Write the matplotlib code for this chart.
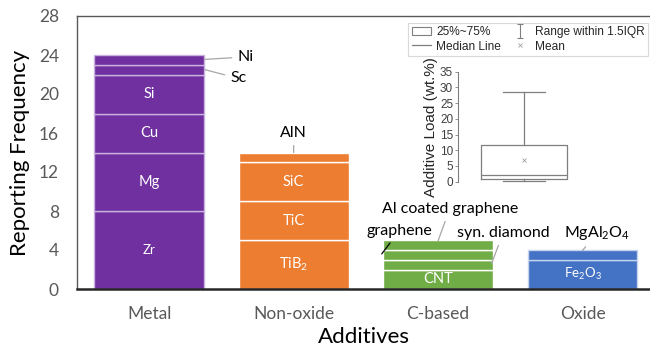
import numpy as np
import matplotlib.pyplot as plt
from matplotlib.patches import Patch
from matplotlib.lines import Line2D
from matplotlib.path import Path

plt.rcParams["font.family"] = ["Lato", "DejaVu Sans"]
plt.rcParams["mathtext.default"] = "regular"

# stacked bar data: reporting frequency of each additive
categories = ["Metal", "Non-oxide", "C-based", "Oxide"]
metal_names = ["Zr", "Mg", "Cu", "Si", "Sc", "Ni"]
metal_counts = [8, 6, 4, 4, 1, 1]
nonoxide_names = ["TiB$_2$", "TiC", "SiC", "AlN"]
nonoxide_counts = [5, 4, 4, 1]
cbased_names = ["CNT", "syn. diamond", "graphene", "Al coated graphene"]
cbased_counts = [2, 1, 1, 1]
oxide_names = ["Fe$_2$O$_3$", "MgAl$_2$O$_4$"]
oxide_counts = [3, 1]

# inset box plot summary (additive load, wt.%)
load_whislo = 0.2
load_q1 = 1.0
load_median = 2.0
load_mean = 7.0
load_q3 = 11.8
load_whishi = 28.5

colors = ["#7030A0", "#ED7D31", "#70AD47", "#4472C4"]
edge_colors = ["#c9b3de", "#ffffff", "#ffffff", "#c5d3ee"]
groups = [
    (metal_names, metal_counts),
    (nonoxide_names, nonoxide_counts),
    (cbased_names, cbased_counts),
    (oxide_names, oxide_counts),
]

# labels placed outside the bar: text position and arrow anchor (data coords)
outside = {
    "Ni": ((0.61, 23.8), (0.385, 23.55)),
    "Sc": ((0.56, 21.6), (0.385, 22.5)),
    "AlN": ((1.0, 16.0), (1.0, 14.0)),
    "Al coated graphene": ((2.08, 8.2), (2.0, 4.95)),
    "graphene": ((1.73, 5.95), (1.61, 3.6)),
    "syn. diamond": ((2.45, 5.75), (2.37, 2.6)),
    "MgAl$_2$O$_4$": ((3.1, 5.75), (3.0, 3.95)),
}
inside_size = {"Zr": 9.5, "Fe$_2$O$_3$": 9.5}

fig = plt.figure(figsize=(6.5, 3.5), dpi=100)
ax = fig.add_axes([77 / 650, 1 - 289 / 350, 1 - 77 / 650, (289 - 16) / 350])

width = 0.76
for i, (names, counts) in enumerate(groups):
    bottom = 0
    for name, c in zip(names, counts):
        ax.bar(i, c, width, bottom=bottom, color=colors[i],
               edgecolor=edge_colors[i], linewidth=1.0)
        if name in outside:
            (tx, ty), (ax_, ay) = outside[name]
            lc = "black" if name == "graphene" else "#a6a6a6"
            ax.annotate(name, xy=(ax_, ay), xytext=(tx, ty), fontsize=11.5,
                        ha="center" if name not in ("Ni", "Sc") else "left",
                        va="center",
                        arrowprops=dict(arrowstyle="-", color=lc, lw=0.9,
                                        shrinkA=2, shrinkB=0))
        else:
            ax.text(i, bottom + c / 2, name, color="white", ha="center",
                    va="center", fontsize=inside_size.get(name, 10.5))
        bottom += c

ax.set_xlim(-0.5, 3.467)
ax.set_ylim(0, 28)
ax.set_yticks(np.arange(0, 29, 4))
ax.set_xticks(range(len(categories)))
ax.set_xticklabels(categories)
ax.tick_params(axis="both", length=0, labelsize=12.5, colors="#595959")
ax.tick_params(axis="x", pad=12)
ax.tick_params(axis="y", pad=13)
ax.set_ylabel("Reporting Frequency", fontsize=16, labelpad=6)
ax.set_xlabel("Additives", fontsize=16, labelpad=4)
ax.spines["right"].set_visible(False)
for s in ["top", "left"]:
    ax.spines[s].set_color("#595959")
    ax.spines[s].set_linewidth(1.0)
ax.spines["bottom"].set_color("#262626")
ax.spines["bottom"].set_linewidth(1.8)

# inset box plot
ins = fig.add_axes([458 / 650, 1 - 181.7 / 350, 132 / 650, 110 / 350])
stats = [dict(med=load_median, q1=load_q1, q3=load_q3, whislo=load_whislo,
              whishi=load_whishi, mean=load_mean)]
gray = "#7f7f7f"
ins.bxp(stats, positions=[0.5], widths=0.65, capwidths=0.32, showmeans=True,
        showfliers=False,
        boxprops=dict(color=gray, lw=0.9),
        medianprops=dict(color=gray, lw=0.9),
        whiskerprops=dict(color=gray, lw=0.9),
        capprops=dict(color=gray, lw=0.9),
        meanprops=dict(marker="x", markeredgecolor="#a0a0a0", markersize=3,
                       markeredgewidth=0.6))
for artist in ins.get_children():
    if hasattr(artist, "set_clip_on"):
        artist.set_clip_on(False)
ins.set_xlim(0, 1)
ins.set_ylim(0, 35)
ins.set_yticks(np.arange(0, 36, 5))
ins.set_xticks([])
ins.patch.set_alpha(0)
for s in ["top", "right", "bottom"]:
    ins.spines[s].set_visible(False)
ins.spines["left"].set_color(gray)
ins.spines["left"].set_linewidth(0.8)
ins.tick_params(axis="y", length=2, width=0.6, color=gray, pad=1.5,
                labelsize=8.5, labelcolor="#404040")
for lab in ins.get_yticklabels():
    lab.set_fontfamily("Liberation Sans")
ins.set_ylabel("Additive Load (wt.%)", fontsize=11, family="Liberation Sans",
               labelpad=1, color="#262626")

# I-shaped whisker symbol for the legend
whisker_marker = Path([(-0.5, 1), (0.5, 1), (0, 1), (0, -1), (-0.5, -1),
                       (0.5, -1)],
                      [Path.MOVETO, Path.LINETO, Path.MOVETO, Path.LINETO,
                       Path.MOVETO, Path.LINETO])
handles = [
    Patch(facecolor="white", edgecolor=gray, lw=0.8),
    Line2D([], [], color=gray, lw=0.9),
    Line2D([], [], ls="none", marker=whisker_marker, color=gray,
           markersize=10, markeredgewidth=0.8, fillstyle="none"),
    Line2D([], [], ls="none", marker="x", color="#a0a0a0", markersize=3,
           markeredgewidth=0.6),
]
labels = ["25%~75%", "Median Line", "Range within 1.5IQR", "Mean"]
leg = fig.legend(handles, labels, ncol=2, loc="upper left",
                 bbox_to_anchor=(408 / 650, 1 - 22.7 / 350),
                 prop=dict(family="Liberation Sans", size=8.6),
                 frameon=True, fancybox=False, edgecolor="#d0d0d0",
                 borderpad=0.3, labelspacing=0.2, handlelength=1.6,
                 handletextpad=0.45, columnspacing=0.8, borderaxespad=0)
leg.get_frame().set_linewidth(0.8)
for t in leg.get_texts():
    t.set_color("#262626")

fig.savefig("out.png", dpi=100)
